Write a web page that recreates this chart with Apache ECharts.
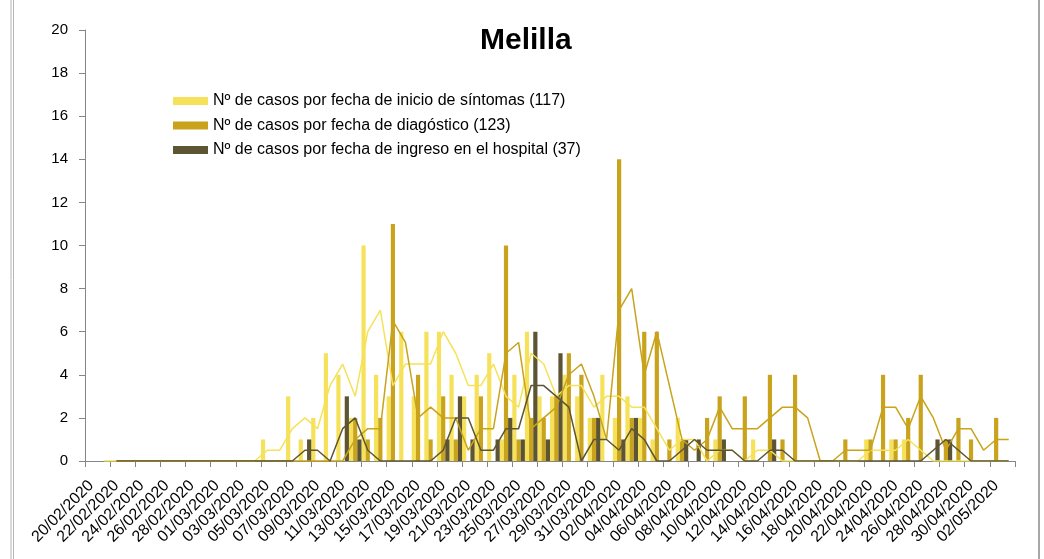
<!DOCTYPE html>
<html>
<head>
<meta charset="utf-8">
<script src="https://cdn.jsdelivr.net/npm/echarts@6/dist/echarts.min.js"></script>
<style>
  html, body { margin: 0; padding: 0; background: #ffffff; }
  #chart { width: 1044px; height: 559px; }
</style>
</head>
<body>
<div id="chart"></div>
<script>
// Días de notificación (20/02/2020 – 03/05/2020)
const fechas = [
  '20/02/2020','21/02/2020','22/02/2020','23/02/2020','24/02/2020','25/02/2020','26/02/2020','27/02/2020','28/02/2020','29/02/2020',
  '01/03/2020','02/03/2020','03/03/2020','04/03/2020','05/03/2020','06/03/2020','07/03/2020','08/03/2020','09/03/2020','10/03/2020',
  '11/03/2020','12/03/2020','13/03/2020','14/03/2020','15/03/2020','16/03/2020','17/03/2020','18/03/2020','19/03/2020','20/03/2020',
  '21/03/2020','22/03/2020','23/03/2020','24/03/2020','25/03/2020','26/03/2020','27/03/2020','28/03/2020','29/03/2020','30/03/2020',
  '31/03/2020','01/04/2020','02/04/2020','03/04/2020','04/04/2020','05/04/2020','06/04/2020','07/04/2020','08/04/2020','09/04/2020',
  '10/04/2020','11/04/2020','12/04/2020','13/04/2020','14/04/2020','15/04/2020','16/04/2020','17/04/2020','18/04/2020','19/04/2020',
  '20/04/2020','21/04/2020','22/04/2020','23/04/2020','24/04/2020','25/04/2020','26/04/2020','27/04/2020','28/04/2020','29/04/2020',
  '30/04/2020','01/05/2020','02/05/2020','03/05/2020'
];

// Casos por fecha de inicio de síntomas
const casosSintomas = [
  0, 0, 0, 0, 0, 0, 0, 0, 0, 0,
  0, 0, 0, 0, 1, 0, 3, 1, 2, 5,
  4, 2, 10, 4, 3, 6, 3, 6, 6, 4,
  3, 4, 5, 1, 4, 6, 3, 3, 4, 3,
  2, 4, 2, 3, 2, 1, 0, 2, 0, 0,
  1, 0, 0, 1, 0, 0, 0, 0, 0, 0,
  0, 0, 1, 0, 1, 1, 0, 0, 0, 0,
  0, 0, 0, 0
];

// Casos por fecha de diagnóstico
const casosDiagnostico = [
  null, 0, 0, 0, 0, 0, 0, 0, 0, 0,
  0, 0, 0, 0, 0, 0, 0, 0, 0, 0,
  0, 2, 1, 2, 11, 0, 4, 1, 3, 1,
  0, 3, 0, 10, 1, 2, 2, 3, 5, 4,
  2, 0, 14, 2, 6, 6, 1, 1, 0, 2,
  3, 0, 3, 0, 4, 1, 4, 0, 0, 0,
  1, 0, 1, 4, 1, 2, 4, 0, 1, 2,
  1, 0, 2, 0
];

// Casos por fecha de ingreso en el hospital
const casosHospital = [
  null, 0, 0, 0, 0, 0, 0, 0, 0, 0,
  0, 0, 0, 0, 0, 0, 0, 1, 0, 0,
  3, 1, 0, 0, 0, 0, 0, 0, 1, 3,
  1, 0, 1, 2, 1, 6, 1, 5, 0, 0,
  2, 0, 1, 2, 0, 0, 0, 1, 1, 0,
  1, 0, 0, 0, 1, 0, 0, 0, 0, 0,
  0, 0, 0, 0, 0, 0, 0, 1, 1, 0,
  0, 0, 0, 0
];

const nombres = [
  'Nº de casos por fecha de inicio de síntomas (117)',
  'Nº de casos por fecha de diagóstico (123)',
  'Nº de casos por fecha de ingreso en el hospital (37)'
];

const colores = ['#F5E25A', '#C8A31B', '#5D5434'];
const fuente = 'Liberation Sans, Arial, sans-serif';

// Media móvil de 2 días (línea de tendencia de cada serie)
function mediaMovil(valores) {
  return valores.map((v, i) => {
    if (i === 0) return null;
    const a = valores[i - 1];
    if (a == null || v == null) return null;
    return (a + v) / 2;
  });
}

const barras = [casosSintomas, casosDiagnostico, casosHospital].map((datos, k) => ({
  name: nombres[k],
  type: 'bar',
  data: datos,
  barWidth: 4.2,
  barGap: '0%',
  itemStyle: { color: colores[k] },
  z: 2
}));

const tendencias = [casosSintomas, casosDiagnostico, casosHospital].map((datos, k) => ({
  name: 'Media móvil ' + (k + 1),
  type: 'line',
  data: mediaMovil(datos),
  symbol: 'none',
  silent: true,
  lineStyle: { color: colores[k], width: 1.5 },
  itemStyle: { color: colores[k] },
  z: 3 + k
}));

const chart = echarts.init(document.getElementById('chart'), null, { renderer: 'canvas' });
chart.setOption({
  animation: false,
  backgroundColor: '#ffffff',
  title: {
    text: 'Melilla',
    left: 475,
    top: 21,
    textStyle: { fontFamily: fuente, fontSize: 30, fontWeight: 'bold', color: '#000000' }
  },
  legend: {
    data: nombres,
    orient: 'vertical',
    left: 168,
    top: 88,
    icon: 'rect',
    itemWidth: 35,
    itemHeight: 8,
    itemGap: 8.5,
    textStyle: { fontFamily: fuente, fontSize: 16, color: '#000000', lineHeight: 16 }
  },
  grid: { left: 85, right: 29, top: 30, bottom: 98 },
  xAxis: {
    type: 'category',
    data: fechas,
    boundaryGap: true,
    axisLine: { lineStyle: { color: '#868686', width: 1 } },
    axisTick: { show: true, interval: 1, length: 6, lineStyle: { color: '#868686' } },
    axisLabel: {
      interval: 1,
      rotate: 45,
      margin: 22,
      fontFamily: fuente,
      fontSize: 16,
      color: '#000000'
    },
    splitLine: { show: false }
  },
  yAxis: {
    type: 'value',
    min: 0,
    max: 20,
    interval: 2,
    axisLine: { show: true, lineStyle: { color: '#868686', width: 1 } },
    axisTick: { show: true, length: 6, lineStyle: { color: '#868686' } },
    axisLabel: { margin: 17, fontFamily: fuente, fontSize: 15, color: '#000000' },
    splitLine: { show: false }
  },
  graphic: [
    { type: 'line', shape: { x1: 11, y1: 0, x2: 11, y2: 559 }, style: { stroke: '#b5b5b5', lineWidth: 1 } },
    { type: 'line', shape: { x1: 13.5, y1: 0, x2: 13.5, y2: 559 }, style: { stroke: '#b5b5b5', lineWidth: 1 } },
    { type: 'line', shape: { x1: 1039, y1: 0, x2: 1039, y2: 559 }, style: { stroke: '#a8a8a8', lineWidth: 2 } }
  ],
  series: barras.concat(tendencias)
});
</script>
</body>
</html>
